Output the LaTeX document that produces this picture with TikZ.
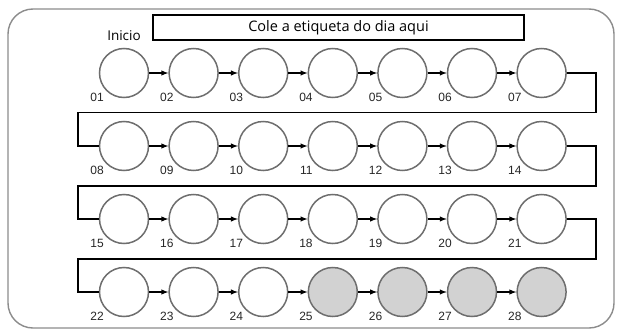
\documentclass[tikz,border=0pt]{standalone}
\usepackage{fontspec}
\setmainfont{Liberation Sans}
\newfontfamily\headfont{Open Sans}
\usepackage{tikz}
\usetikzlibrary{shapes, arrows}
\definecolor{ringgray}{HTML}{6E6E6E}
\definecolor{framegray}{HTML}{8C8C8C}
\definecolor{donegray}{HTML}{D2D2D2}
\tikzstyle{day} = [circle, draw=ringgray, line width=1.5pt, fill=white,
    minimum size=49pt, inner sep=0pt]
\tikzstyle{spare} = [day, fill=donegray]
\tikzstyle{num} = [font=\fontsize{12}{14}\selectfont, text=black!85,
    inner sep=0pt, label distance=3pt]
\tikzstyle{line} = [draw, line width=1.4pt, -latex]
\tikzstyle{link} = [draw, line width=1.6pt]
\tikzstyle{frame} = [draw=framegray, line width=1.4pt, rounded corners=25pt]

\begin{document}
\begin{tikzpicture}[node distance = 69.6pt, auto]
        \useasboundingbox (0,0) rectangle (621pt,-332pt);
        \draw [frame] (8pt,-9pt) rectangle (614pt,-328pt);
        % Header
        \node [draw, line width=2pt, minimum width=371pt, minimum height=25pt,
            font=\headfont\fontsize{14.5}{16}\selectfont] (tag) at (338.5pt,-27.5pt)
            {Cole a etiqueta do dia aqui};
        % Place nodes
        \node [day, label={[num]225:01}] (d01) at (124pt,-73pt) {};
        \node [font=\headfont\fontsize{13.5}{15}\selectfont, node distance=37pt,
            above of=d01] (start) {Inicio};
        \node [day, right of=d01, label={[num]225:02}] (d02) {};
        \node [day, right of=d02, label={[num]225:03}] (d03) {};
        \node [day, right of=d03, label={[num]225:04}] (d04) {};
        \node [day, right of=d04, label={[num]225:05}] (d05) {};
        \node [day, right of=d05, label={[num]225:06}] (d06) {};
        \node [day, right of=d06, label={[num]225:07}] (d07) {};
        \node [day, node distance=73pt, below of=d01, label={[num]225:08}] (d08) {};
        \node [day, right of=d08, label={[num]225:09}] (d09) {};
        \node [day, right of=d09, label={[num]225:10}] (d10) {};
        \node [day, right of=d10, label={[num]225:11}] (d11) {};
        \node [day, right of=d11, label={[num]225:12}] (d12) {};
        \node [day, right of=d12, label={[num]225:13}] (d13) {};
        \node [day, right of=d13, label={[num]225:14}] (d14) {};
        \node [day, node distance=73pt, below of=d08, label={[num]225:15}] (d15) {};
        \node [day, right of=d15, label={[num]225:16}] (d16) {};
        \node [day, right of=d16, label={[num]225:17}] (d17) {};
        \node [day, right of=d17, label={[num]225:18}] (d18) {};
        \node [day, right of=d18, label={[num]225:19}] (d19) {};
        \node [day, right of=d19, label={[num]225:20}] (d20) {};
        \node [day, right of=d20, label={[num]225:21}] (d21) {};
        \node [day, node distance=73pt, below of=d15, label={[num]225:22}] (d22) {};
        \node [day, right of=d22, label={[num]225:23}] (d23) {};
        \node [day, right of=d23, label={[num]225:24}] (d24) {};
        \node [spare, right of=d24, label={[num]225:25}] (d25) {};
        \node [spare, right of=d25, label={[num]225:26}] (d26) {};
        \node [spare, right of=d26, label={[num]225:27}] (d27) {};
        \node [spare, right of=d27, label={[num]225:28}] (d28) {};
        % Draw edges
        \path [line] (d01) -- (d02);
        \path [line] (d02) -- (d03);
        \path [line] (d03) -- (d04);
        \path [line] (d04) -- (d05);
        \path [line] (d05) -- (d06);
        \path [line] (d06) -- (d07);
        \path [line] (d08) -- (d09);
        \path [line] (d09) -- (d10);
        \path [line] (d10) -- (d11);
        \path [line] (d11) -- (d12);
        \path [line] (d12) -- (d13);
        \path [line] (d13) -- (d14);
        \path [line] (d15) -- (d16);
        \path [line] (d16) -- (d17);
        \path [line] (d17) -- (d18);
        \path [line] (d18) -- (d19);
        \path [line] (d19) -- (d20);
        \path [line] (d20) -- (d21);
        \path [line] (d22) -- (d23);
        \path [line] (d23) -- (d24);
        \path [line] (d24) -- (d25);
        \path [line] (d25) -- (d26);
        \path [line] (d26) -- (d27);
        \path [line] (d27) -- (d28);
        % Row turns
        \path [link] (d07.east) -- ++(29pt,0) -- ++(0,-39.5pt)
            -| ([xshift=-21pt]d08.west) -- (d08.west);
        \path [link] (d14.east) -- ++(29pt,0) -- ++(0,-40pt)
            -| ([xshift=-21pt]d15.west) -- (d15.west);
        \path [link] (d21.east) -- ++(29pt,0) -- ++(0,-40pt)
            -| ([xshift=-21pt]d22.west) -- (d22.west);
    \end{tikzpicture}
\end{document}
